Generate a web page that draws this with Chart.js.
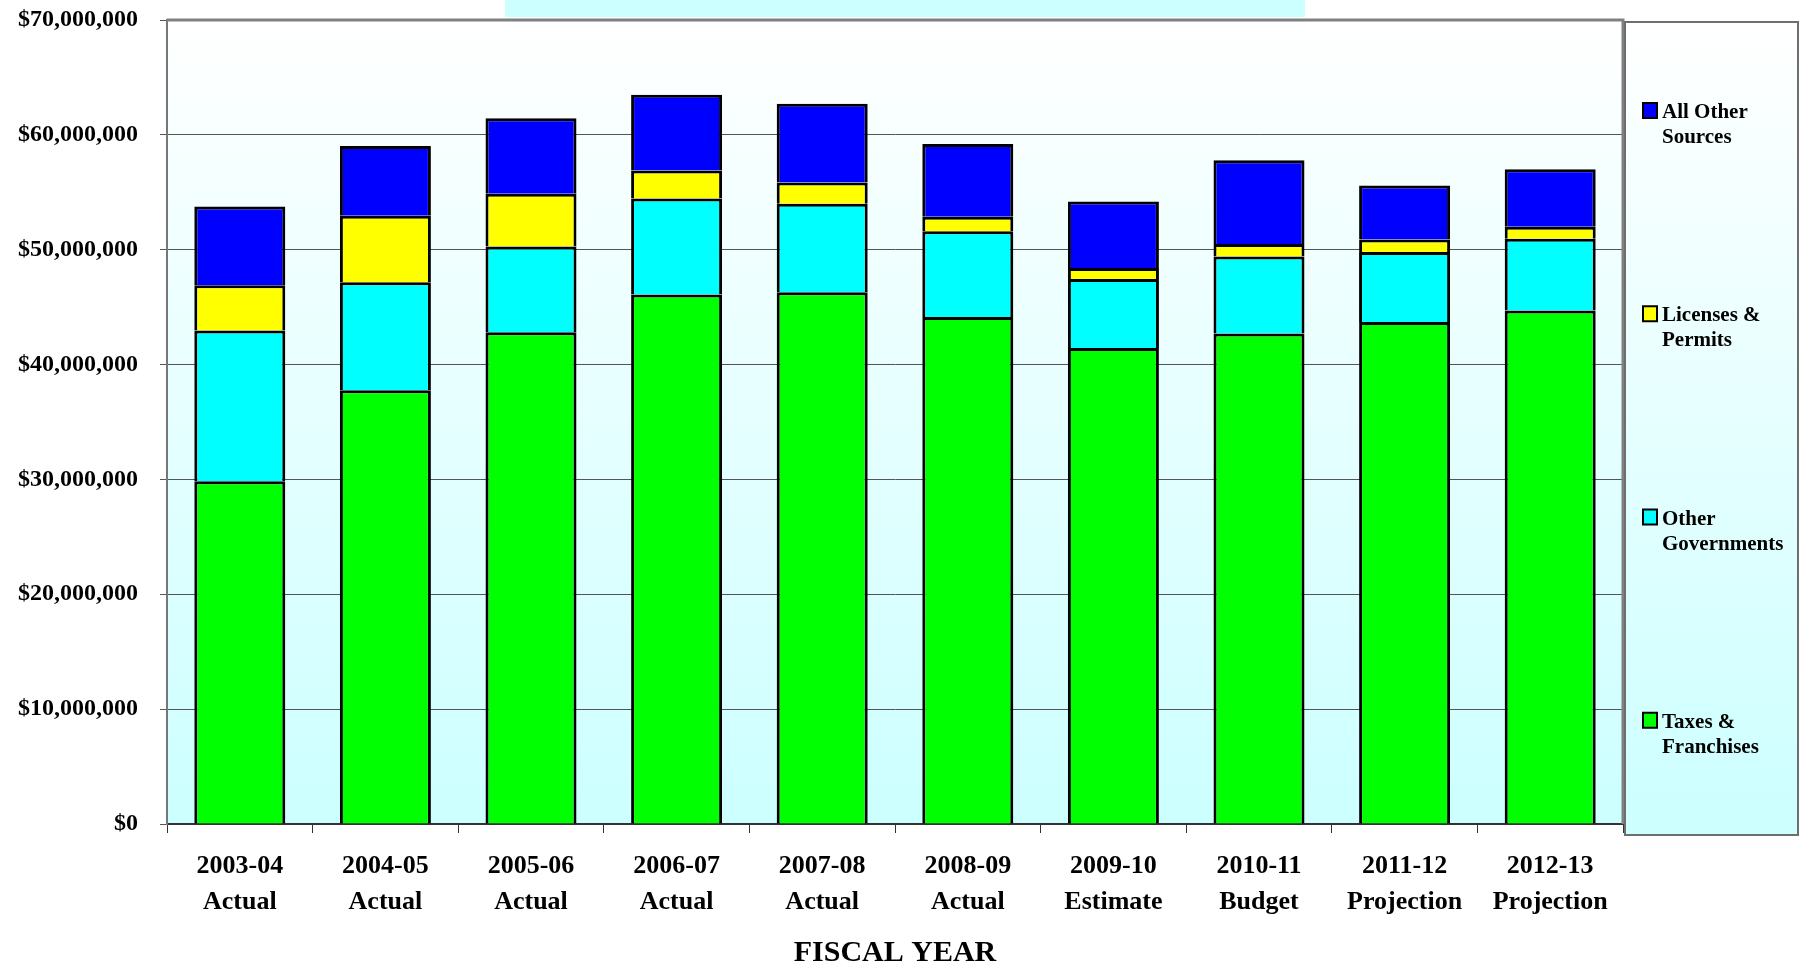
<!DOCTYPE html>
<html>
<head>
<meta charset="utf-8">
<title>Revenue by Source</title>
<script src="https://cdn.jsdelivr.net/npm/chart.js@4/dist/chart.umd.min.js"></script>
<style>
  html, body { margin: 0; padding: 0; background: #ffffff; overflow: hidden; }
  canvas { display: block; }
</style>
</head>
<body>
<canvas id="revenueChart" width="1800" height="969"></canvas>
<script>
// Fiscal years and the kind of figure each one is
const fiscalYears = ['2003-04', '2004-05', '2005-06', '2006-07', '2007-08', '2008-09', '2009-10', '2010-11', '2011-12', '2012-13'];
const yearTypes = ['Actual', 'Actual', 'Actual', 'Actual', 'Actual', 'Actual', 'Estimate', 'Budget', 'Projection', 'Projection'];

// Revenue by source, in dollars (stacked bottom to top)
const taxesFranchises  = [29850000, 37770000, 42810000, 46100000, 46300000, 44140000, 41440000, 42700000, 43700000, 44700000];
const otherGovernments = [13110000,  9390000,  7480000,  8360000,  7700000,  7460000,  6010000,  6700000,  6100000,  6260000];
const licensesPermits  = [ 3940000,  5800000,  4580000,  2440000,  1850000,  1270000,   950000,  1100000,  1100000,  1040000];
const allOtherSources  = [ 6870000,  6080000,  6580000,  6600000,  6850000,  6330000,  5800000,  7300000,  4700000,  5000000];

// Value axis ticks
const yTicks = [0, 10000000, 20000000, 30000000, 40000000, 50000000, 60000000, 70000000];

const seriesNames = ['Taxes & Franchises', 'Other Governments', 'Licenses & Permits', 'All Other Sources'];
const seriesColors = ['#00ff00', '#00ffff', '#ffff00', '#0000ff'];
const seriesValues = [taxesFranchises, otherGovernments, licensesPermits, allOtherSources];

const SERIF = '"Liberation Serif", "Times New Roman", Times, serif';

// Light cyan gradient behind the plot area, plus the plot frame
const plotBackdrop = {
  id: 'plotBackdrop',
  beforeDraw(chart) {
    const { ctx, chartArea: a } = chart;
    ctx.save();
    // band across the top of the page
    ctx.fillStyle = '#ccffff';
    ctx.fillRect(505, 0, 800, 17);
    const g = ctx.createLinearGradient(0, a.top, 0, a.bottom);
    g.addColorStop(0, '#ffffff');
    g.addColorStop(1, '#ccffff');
    ctx.fillStyle = g;
    ctx.fillRect(a.left, a.top, a.right - a.left, a.bottom - a.top);
    ctx.restore();
  },
  beforeDatasetsDraw(chart) {
    const { ctx, chartArea: a } = chart;
    ctx.save();
    ctx.strokeStyle = '#808080';
    ctx.lineWidth = 3;
    ctx.beginPath();
    ctx.moveTo(a.left, a.top);
    ctx.lineTo(a.right, a.top);
    ctx.lineTo(a.right, a.bottom);
    ctx.stroke();
    ctx.restore();
  }
};

// Legend box on the right, listing the series top to bottom in stack order
const sideLegend = {
  id: 'sideLegend',
  afterDraw(chart) {
    const { ctx, chartArea: a } = chart;
    const box = { left: a.right + 2, top: 22, right: 1798, bottom: 835 };
    ctx.save();
    const g = ctx.createLinearGradient(0, box.top, 0, box.bottom);
    g.addColorStop(0, '#ffffff');
    g.addColorStop(1, '#ccffff');
    ctx.fillStyle = g;
    ctx.fillRect(box.left, box.top, box.right - box.left, box.bottom - box.top);
    ctx.strokeStyle = '#6e6e6e';
    ctx.lineWidth = 2;
    ctx.strokeRect(box.left, box.top, box.right - box.left, box.bottom - box.top);

    const sets = chart.data.datasets.slice().reverse();
    const slot = (box.bottom - box.top) / sets.length;
    const textX = box.left + 37;
    const maxW = box.right - textX - 6;
    ctx.font = 'bold 21px ' + SERIF;
    ctx.textBaseline = 'alphabetic';
    ctx.textAlign = 'left';
    sets.forEach((ds, k) => {
      const base = box.top + 96 + k * slot;
      // swatch
      ctx.fillStyle = ds.backgroundColor;
      ctx.fillRect(box.left + 18, base - 15, 14, 15);
      ctx.strokeStyle = '#000000';
      ctx.lineWidth = 2;
      ctx.strokeRect(box.left + 18, base - 15, 14, 15);
      // wrapped label
      const words = ds.label.split(' ');
      const lines = [];
      let cur = '';
      words.forEach(w => {
        const test = cur ? cur + ' ' + w : w;
        if (cur && ctx.measureText(test).width > maxW) {
          lines.push(cur);
          cur = w;
        } else {
          cur = test;
        }
      });
      if (cur) lines.push(cur);
      ctx.fillStyle = '#000000';
      lines.forEach((ln, i) => ctx.fillText(ln, textX, base + i * 25));
    });
    ctx.restore();
  }
};

const chart = new Chart(document.getElementById('revenueChart'), {
  type: 'bar',
  data: {
    labels: fiscalYears.map((y, i) => [y, yearTypes[i]]),
    datasets: seriesNames.map((name, i) => ({
      label: name,
      data: seriesValues[i],
      backgroundColor: seriesColors[i],
      borderColor: '#000000',
      borderWidth: 3,
      categoryPercentage: 1.0,
      barPercentage: 0.625
    }))
  },
  options: {
    responsive: false,
    devicePixelRatio: 1,
    animation: false,
    layout: { padding: { left: 0, right: 177, top: 20, bottom: 0 } },
    plugins: {
      legend: { display: false },
      tooltip: { enabled: false },
      title: { display: false }
    },
    scales: {
      x: {
        stacked: true,
        grid: { display: true, drawOnChartArea: false, drawTicks: true, tickLength: 9, color: '#333333', lineWidth: 1, offset: true },
        border: { display: true, color: '#333333', width: 2 },
        ticks: {
          color: '#000000',
          padding: 15,
          maxRotation: 0,
          autoSkip: false,
          font: { family: SERIF, size: 26, weight: 'bold', lineHeight: 36 / 26 }
        },
        title: {
          display: true,
          text: 'FISCAL YEAR',
          color: '#000000',
          padding: { top: 0, bottom: 1 },
          font: { family: SERIF, size: 30, weight: 'bold', lineHeight: 1 }
        },
        afterFit(scale) { scale.height = 145; scale.paddingLeft = 0; scale.paddingRight = 0; }
      },
      y: {
        stacked: true,
        min: 0,
        max: 70000000,
        afterBuildTicks(axis) { axis.ticks = yTicks.map(v => ({ value: v })); },
        grid: { color: '#555555', lineWidth: 1, tickLength: 7, drawTicks: true },
        border: { display: true, color: '#777777', width: 2 },
        ticks: {
          color: '#000000',
          padding: 22,
          font: { family: SERIF, size: 24, weight: 'bold' },
          callback: v => '$' + Number(v).toLocaleString('en-US')
        },
        afterFit(scale) { scale.width = 167; scale.paddingTop = 0; scale.paddingBottom = 0; }
      }
    }
  },
  plugins: [plotBackdrop, sideLegend]
});
</script>
</body>
</html>
